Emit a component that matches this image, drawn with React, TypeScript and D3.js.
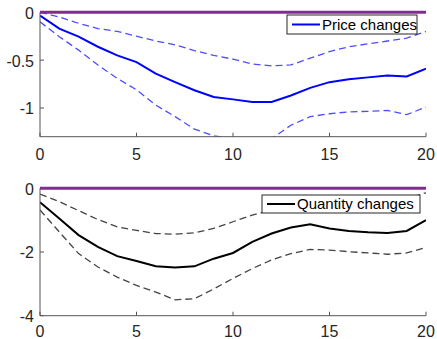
import React, { useRef, useEffect } from "react";
import * as d3 from "d3";

const horizon = d3.range(0, 21);

const priceMid = [-0.035, -0.17, -0.255, -0.36, -0.45, -0.52, -0.64, -0.73, -0.815, -0.885, -0.91, -0.937, -0.937, -0.87, -0.79, -0.73, -0.7, -0.68, -0.66, -0.67, -0.59];
const priceUpper = [0.0, -0.05, -0.115, -0.17, -0.2, -0.25, -0.3, -0.34, -0.4, -0.45, -0.49, -0.54, -0.56, -0.55, -0.48, -0.41, -0.36, -0.33, -0.3, -0.27, -0.2];
const priceLower = [-0.1, -0.255, -0.395, -0.55, -0.69, -0.81, -0.97, -1.09, -1.22, -1.29, -1.32, -1.33, -1.32, -1.18, -1.09, -1.06, -1.04, -1.035, -1.025, -1.07, -0.99];

const qtyMid = [-0.44, -0.95, -1.47, -1.84, -2.13, -2.28, -2.45, -2.49, -2.45, -2.21, -2.03, -1.68, -1.42, -1.23, -1.13, -1.26, -1.34, -1.38, -1.4, -1.34, -1.0];
const qtyUpper = [-0.18, -0.42, -0.7, -0.98, -1.21, -1.32, -1.42, -1.44, -1.4, -1.26, -1.05, -0.84, -0.68, -0.56, -0.48, -0.44, -0.42, -0.4, -0.38, -0.32, -0.14];
const qtyLower = [-0.68, -1.37, -2.05, -2.47, -2.79, -3.05, -3.26, -3.5, -3.47, -3.16, -2.83, -2.52, -2.25, -2.05, -1.92, -1.94, -1.99, -2.03, -2.07, -2.03, -1.86];

const xTicks = [0, 5, 10, 15, 20];
const priceTicks = [0, -0.5, -1];
const qtyTicks = [0, -2, -4];

const FONT = "'Liberation Sans', Arial, sans-serif";

const App = () => {
    const svgRef = useRef(null);

    useEffect(() => {
        const svg = d3.select(svgRef.current);
        svg.selectAll("*").remove();

        const x = d3.scaleLinear().domain([0, 20]).range([40, 426]);

        const panels = [
            {
                id: "p1",
                y: d3.scaleLinear().domain([-1.3, 0]).range([136.7, 12.3]),
                ticks: priceTicks,
                mid: priceMid,
                upper: priceUpper,
                lower: priceLower,
                solid: "#0000ff",
                dash: "#4d4dff",
                label: "Price changes",
                legend: { x: 287, y: 15, w: 130, h: 19 },
                labelGap: 23,
                fmt: (d) => (d === 0 ? "0" : String(d)),
            },
            {
                id: "p2",
                y: d3.scaleLinear().domain([-4, 0]).range([315.7, 188.3]),
                ticks: qtyTicks,
                mid: qtyMid,
                upper: qtyUpper,
                lower: qtyLower,
                solid: "#000000",
                dash: "#444444",
                label: "Quantity changes",
                legend: { x: 262, y: 195, w: 158, h: 18 },
                labelGap: 21.5,
                fmt: (d) => String(d),
            },
        ];

        panels.forEach((p) => {
            const [yBottom, yTop] = p.y.range();
            const g = svg.append("g");

            g.append("clipPath")
                .attr("id", `clip-${p.id}`)
                .append("rect")
                .attr("x", x(0))
                .attr("y", yTop - 2)
                .attr("width", x(20) - x(0))
                .attr("height", yBottom - yTop + 2);

            const line = d3
                .line()
                .x((d, i) => x(horizon[i]))
                .y((d) => p.y(d));

            const plot = g.append("g").attr("clip-path", `url(#clip-${p.id})`);

            [p.upper, p.lower].forEach((series) => {
                plot.append("path")
                    .attr("d", line(series))
                    .attr("fill", "none")
                    .attr("stroke", p.dash)
                    .attr("stroke-width", 1.3)
                    .attr("stroke-dasharray", "7,4");
            });

            plot.append("path")
                .attr("d", line(p.mid))
                .attr("fill", "none")
                .attr("stroke", p.solid)
                .attr("stroke-width", 2);

            // axes
            g.append("line")
                .attr("x1", x(0)).attr("x2", x(0))
                .attr("y1", yTop).attr("y2", yBottom)
                .attr("stroke", "#555").attr("stroke-width", 1);
            g.append("line")
                .attr("x1", x(0)).attr("x2", x(20))
                .attr("y1", yBottom).attr("y2", yBottom)
                .attr("stroke", "#555").attr("stroke-width", 1);

            xTicks.forEach((t) => {
                g.append("line")
                    .attr("x1", x(t)).attr("x2", x(t))
                    .attr("y1", yBottom).attr("y2", yBottom - 4)
                    .attr("stroke", "#555");
                g.append("text")
                    .attr("x", x(t))
                    .attr("y", yBottom + p.labelGap)
                    .attr("text-anchor", "middle")
                    .style("font-family", FONT)
                    .style("font-size", "16px")
                    .attr("fill", "#262626")
                    .text(t);
            });

            p.ticks.forEach((t) => {
                g.append("line")
                    .attr("x1", x(0)).attr("x2", x(0) + 4)
                    .attr("y1", p.y(t)).attr("y2", p.y(t))
                    .attr("stroke", "#555");
                g.append("text")
                    .attr("x", x(0) - 6)
                    .attr("y", p.y(t))
                    .attr("dy", "0.4em")
                    .attr("text-anchor", "end")
                    .style("font-family", FONT)
                    .style("font-size", "16px")
                    .attr("fill", "#262626")
                    .text(p.fmt(t));
            });

            // zero line
            g.append("line")
                .attr("x1", x(0)).attr("x2", x(20))
                .attr("y1", p.y(0)).attr("y2", p.y(0))
                .attr("stroke", "#7e2f8e")
                .attr("stroke-width", 3);

            // legend
            const L = p.legend;
            g.append("rect")
                .attr("x", L.x).attr("y", L.y)
                .attr("width", L.w).attr("height", L.h)
                .attr("fill", "white")
                .attr("stroke", "#262626")
                .attr("stroke-width", 1);
            g.append("line")
                .attr("x1", L.x + 5).attr("x2", L.x + 33)
                .attr("y1", L.y + L.h / 2).attr("y2", L.y + L.h / 2)
                .attr("stroke", p.solid)
                .attr("stroke-width", 2);
            g.append("text")
                .attr("x", L.x + 35)
                .attr("y", L.y + L.h / 2)
                .attr("dy", "0.35em")
                .style("font-family", FONT)
                .style("font-size", "15px")
                .attr("fill", "#000")
                .text(p.label);
        });
    }, []);

    return (
        <svg
            ref={svgRef}
            width={437}
            height={339}
            style={{ position: "absolute", left: 0, top: 0, background: "white" }}
        />
    );
};

export default App;
